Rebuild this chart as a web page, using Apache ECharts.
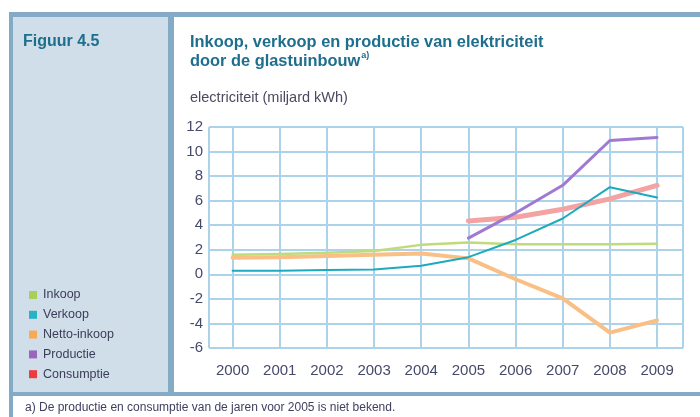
<!DOCTYPE html>
<html>
<head>
<meta charset="utf-8">
<script src="https://cdn.jsdelivr.net/npm/echarts@6/dist/echarts.min.js"></script>
<style>
  html, body { margin: 0; padding: 0; background: #fff; }
  #chart { width: 700px; height: 417px; }
</style>
</head>
<body>
<div id="chart"></div>
<script>
// Elektriciteit glastuinbouw, miljard kWh
const years = [2000, 2001, 2002, 2003, 2004, 2005, 2006, 2007, 2008, 2009];
const inkoop     = [1.6, 1.65, 1.75, 1.9, 2.4, 2.6, 2.45, 2.45, 2.45, 2.5];
const verkoop    = [0.3, 0.3, 0.35, 0.4, 0.7, 1.4, 2.8, 4.55, 7.1, 6.25];
const nettoInkoop = [1.35, 1.4, 1.5, 1.6, 1.7, 1.3, -0.4, -1.95, -4.75, -3.75];
const productie  = [null, null, null, null, null, 2.95, 5.0, 7.25, 10.9, 11.15];
const consumptie = [null, null, null, null, null, 4.35, 4.65, 5.3, 6.15, 7.25];
const yTicks = [-6, -4, -2, 0, 2, 4, 6, 8, 10, 12];

const FONT = '"Liberation Sans", Arial, sans-serif';
const BORDER = '#84abc5';
const PANEL = '#cfdee8';
const TITLE = '#1e6e8e';
const LABEL = '#464a6a';

const pairs = vals => years.map((y, i) => [y, vals[i]]);

function lineSeries(name, vals, legendColor, lineColor, width, z) {
  return {
    name, type: 'line', data: pairs(vals), symbol: 'none', z,
    connectNulls: false,
    itemStyle: { color: legendColor },
    lineStyle: { color: lineColor, width, cap: 'round', join: 'round' },
    emphasis: { disabled: true }
  };
}

const chart = echarts.init(document.getElementById('chart'), null, { renderer: 'canvas' });
chart.setOption({
  backgroundColor: '#ffffff',
  animation: false,
  graphic: [
    { type: 'rect', z: -10, shape: { x: 9, y: 12, width: 691, height: 5 }, style: { fill: BORDER } },
    { type: 'rect', z: -10, shape: { x: 9, y: 12, width: 4, height: 405 }, style: { fill: BORDER } },
    { type: 'rect', z: -10, shape: { x: 13, y: 17, width: 155, height: 375 }, style: { fill: PANEL } },
    { type: 'rect', z: -10, shape: { x: 168, y: 17, width: 6, height: 375 }, style: { fill: BORDER } },
    { type: 'rect', z: -10, shape: { x: 9, y: 392, width: 691, height: 4 }, style: { fill: BORDER } },
    { type: 'text', left: 23, top: 34, style: { text: 'Figuur 4.5', fill: TITLE, font: 'bold 16px ' + FONT } },
    {
      type: 'text', left: 190, top: 34,
      style: {
        text: '{b|Inkoop, verkoop en productie van elektriciteit}\n{b|door de glastuinbouw}{s|a)}',
        rich: {
          b: { fontFamily: FONT, fontSize: 16.4, fontWeight: 'bold', lineHeight: 19, fill: TITLE, color: TITLE },
          s: { fontFamily: FONT, fontSize: 9, fontWeight: 'bold', lineHeight: 19, verticalAlign: 'top', padding: [0, 0, 6, 1], fill: TITLE, color: TITLE }
        }
      }
    },
    { type: 'text', left: 190, top: 90, style: { text: 'electriciteit (miljard kWh)', fill: '#4a4a60', font: '14.5px ' + FONT } },
    { type: 'text', left: 25, top: 402, style: { text: 'a) De productie en consumptie van de jaren voor 2005 is niet bekend.', fill: '#404060', font: '12px ' + FONT } }
  ],
  legend: {
    orient: 'vertical', left: 24, top: 283,
    itemWidth: 8, itemHeight: 8, itemGap: 5.8,
    icon: 'rect',
    data: ['Inkoop', 'Verkoop', 'Netto-inkoop', 'Productie', 'Consumptie'],
    textStyle: { fontFamily: FONT, fontSize: 12.5, color: '#3c3c5a', lineHeight: 14, padding: [0, 0, 0, 1] },
    selectedMode: false
  },
  grid: { left: 209, right: 17, top: 127, bottom: 69, containLabel: false },
  xAxis: {
    type: 'value', min: 1999.5, max: 2009.55, minInterval: 1, maxInterval: 1, splitNumber: 10,
    axisLine: { show: false }, axisTick: { show: false },
    splitLine: { show: true, lineStyle: { color: '#acd3ea', width: 2 } },
    axisLabel: {
      margin: 15, color: LABEL, fontFamily: FONT, fontSize: 15,
      formatter: v => (Math.abs(v - Math.round(v)) < 1e-6 && years.includes(Math.round(v))) ? String(Math.round(v)) : ''
    }
  },
  yAxis: {
    type: 'value', min: yTicks[0], max: yTicks[yTicks.length - 1], interval: 2,
    axisLine: { show: false }, axisTick: { show: false },
    splitLine: { show: true, lineStyle: { color: '#acd3ea', width: 2 } },
    axisLabel: { margin: 6, color: LABEL, fontFamily: FONT, fontSize: 15 }
  },
  series: [
    lineSeries('Consumptie', consumptie, '#ef3b3b', '#f4a3a3', 5, 2),
    lineSeries('Netto-inkoop', nettoInkoop, '#f9a955', '#f9bf85', 4, 3),
    lineSeries('Inkoop', inkoop, '#a9cf58', '#bfdb7c', 2.5, 4),
    lineSeries('Verkoop', verkoop, '#25b3c5', '#1caabf', 2, 5),
    lineSeries('Productie', productie, '#9a66bb', '#a07ad0', 3, 6)
  ]
});
</script>
</body>
</html>
